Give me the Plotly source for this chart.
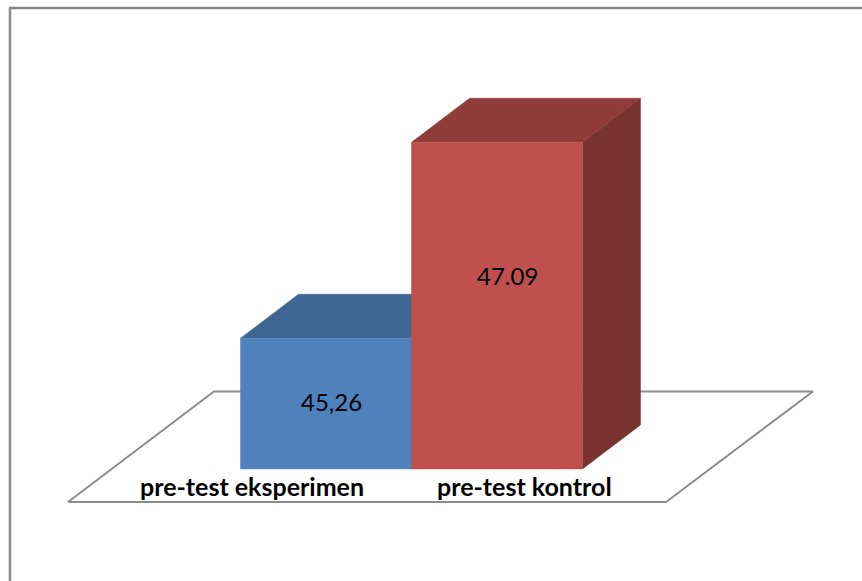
import plotly.graph_objects as go

# Data
categories = ["pre-test eksperimen", "pre-test kontrol"]
values = [45.26, 47.09]
value_labels = ["45,26", "47.09"]
axis_base = 44.04

# Styling
front_colors = ["#4F81BD", "#C0504D"]
top_colors = ["#3E6695", "#8F3C3A"]
side_colors = ["#37587F", "#78322F"]
FONT = "Lato, Carlito, Calibri, sans-serif"

# Pixel geometry of the scale (oblique projection of the 3D Excel chart)
W, H = 862, 581
PX_PER_CAT = 171.0
PX_PER_UNIT = 107.1
X0_PX = 326.0           # centre of first bar
BASE_PX = 468.9         # bar floor
DX = 58 / PX_PER_CAT    # depth offset in axis units
DY = 44 / PX_PER_UNIT

x_range = [(0 - X0_PX) / PX_PER_CAT, (W - X0_PX) / PX_PER_CAT]
y_range = [axis_base - (H - BASE_PX) / PX_PER_UNIT, axis_base + BASE_PX / PX_PER_UNIT]


def xd(px):
    return (px - X0_PX) / PX_PER_CAT


def yd(px):
    return axis_base + (BASE_PX - px) / PX_PER_UNIT


def face(xs, ys, color):
    return go.Scatter(x=xs + xs[:1], y=ys + ys[:1], mode="lines", fill="toself",
                      fillcolor=color, line=dict(width=0.5, color=color),
                      hoverinfo="skip", showlegend=False)


fig = go.Figure()

# Floor
fig.add_trace(go.Scatter(
    x=[xd(68), xd(666), xd(813), xd(214), xd(68)],
    y=[yd(502), yd(502), yd(391.5), yd(391.5), yd(502)],
    mode="lines", fill="toself", fillcolor="#FFFFFF",
    line=dict(color="#8C8C8C", width=2), hoverinfo="skip", showlegend=False))

# Bars: side, top and front faces, left bar first so the right one covers its side
positions = list(range(len(values)))
for i, v in zip(positions, values):
    l, r = i - 0.5, i + 0.5
    fig.add_trace(face([r, r + DX, r + DX, r], [axis_base, axis_base + DY, v + DY, v], side_colors[i]))
    fig.add_trace(face([l, r, r + DX, l + DX], [v, v, v + DY, v + DY], top_colors[i]))
    fig.add_trace(face([l, r, r, l], [axis_base, axis_base, v, v], front_colors[i]))

# Value labels
label_offsets = [5 / PX_PER_CAT, 10 / PX_PER_CAT]
label_px_y = [401.5, 275]
for i, txt in enumerate(value_labels):
    fig.add_annotation(x=positions[i] + label_offsets[i], y=yd(label_px_y[i]), text=txt,
                       showarrow=False, font=dict(family=FONT, size=24, color="#000000"))

# Category labels
cat_px_x = [252, 524.5]
for i, txt in enumerate(categories):
    fig.add_annotation(x=xd(cat_px_x[i]), y=yd(486), text=f"<b>{txt}</b>",
                       showarrow=False, font=dict(family=FONT, size=25, color="#000000"))

# Chart-area border (runs off the right and bottom of the picture)
fig.add_shape(type="line", xref="paper", yref="paper", x0=9 / W, x1=1, y0=1 - 8 / H, y1=1 - 8 / H,
              line=dict(color="#868686", width=2.4))
fig.add_shape(type="line", xref="paper", yref="paper", x0=10 / W, x1=10 / W, y0=0, y1=1 - 8 / H,
              line=dict(color="#8E8E8E", width=2.6))

fig.update_layout(
    width=W, height=H, margin=dict(l=0, r=0, t=0, b=0),
    paper_bgcolor="#FFFFFF", plot_bgcolor="#FFFFFF",
    xaxis=dict(range=x_range, visible=False, fixedrange=True),
    yaxis=dict(range=y_range, visible=False, fixedrange=True),
    showlegend=False,
)

fig.write_html("out.html", config={"displayModeBar": False},
               post_script="document.body.style.margin='0';document.body.style.overflow='hidden';")
